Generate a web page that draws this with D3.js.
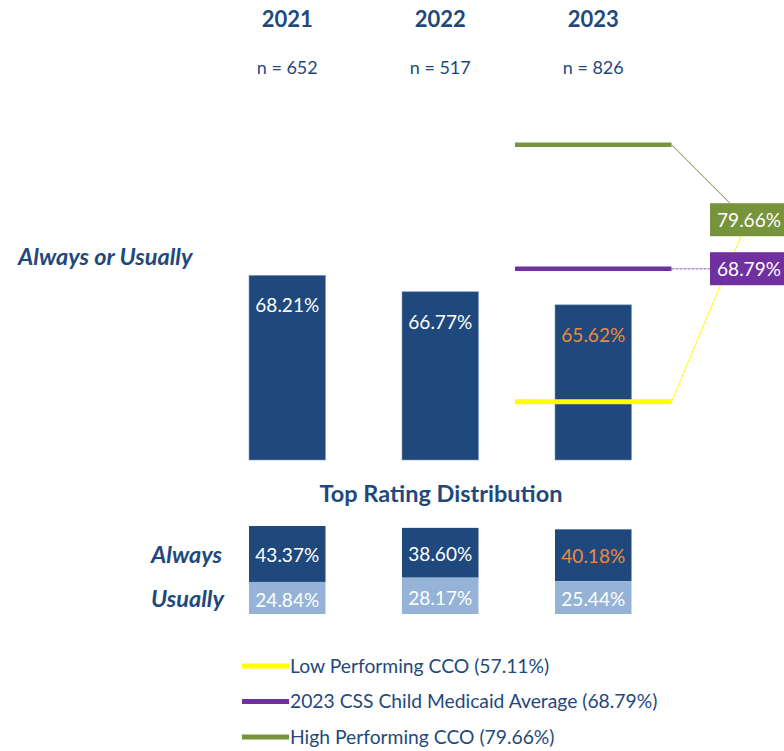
<!DOCTYPE html>
<html>
<head>
<meta charset="utf-8">
<script src="https://cdn.jsdelivr.net/npm/d3@7"></script>
<style>
  body { margin: 0; background: #fff; }
  text { font-family: Lato, "Noto Sans", sans-serif; }
</style>
</head>
<body>
<script>
const WIDTH = 784;
const HEIGHT = 751;

// Datos
const anios = ["2021", "2022", "2023"];
const muestras = [652, 517, 826];
const siempreOUsualmente = [68.21, 66.77, 65.62];
const siempre = [43.37, 38.60, 40.18];
const usualmente = [24.84, 28.17, 25.44];
const referenciaNombres = ["Low Performing CCO", "2023 CSS Child Medicaid Average", "High Performing CCO"];
const referenciaValores = [57.11, 68.79, 79.66];
const referenciaColores = ["#FFFF00", "#7030A0", "#77933C"];

const AZUL = "#1F497D";
const AZUL_CLARO = "#95B3D7";
const NARANJA = "#EE8A3E";

const svg = d3
  .select("body")
  .append("svg")
  .attr("width", WIDTH)
  .attr("height", HEIGHT);

const x = d3.scaleBand().domain(anios).range([172.5, 708]).paddingInner(0.5).paddingOuter(0.5);
const y = d3.scaleLinear().domain([52, 80]).range([460, 141]);
const yDist = d3.scaleLinear().domain([0, 100]).range([614, 485]);
const bw = x.bandwidth();
const pctTxt = (v) => d3.format(".2f")(v) + "%";
// el ultimo anio va en naranja
const colorTexto = (i) => (i === anios.length - 1 ? NARANJA : "#fff");

// encabezados
svg.selectAll(".anio")
  .data(anios)
  .join("text")
  .attr("x", (d) => x(d) + bw / 2)
  .attr("y", 27)
  .attr("text-anchor", "middle")
  .attr("font-size", 22)
  .attr("font-weight", "bold")
  .attr("fill", AZUL)
  .text((d) => d);

svg.selectAll(".n")
  .data(muestras)
  .join("text")
  .attr("x", (d, i) => x(anios[i]) + bw / 2)
  .attr("y", 74)
  .attr("text-anchor", "middle")
  .attr("font-size", 18)
  .attr("fill", AZUL)
  .text((d) => "n = " + d);

svg.append("text")
  .attr("x", 18)
  .attr("y", 265)
  .attr("font-size", 23.5)
  .attr("font-weight", "bold")
  .attr("font-style", "italic")
  .attr("fill", AZUL)
  .text("Always or Usually");

// barras principales
svg.selectAll(".barra")
  .data(siempreOUsualmente)
  .join("rect")
  .attr("x", (d, i) => x(anios[i]))
  .attr("y", (d) => y(d))
  .attr("width", bw)
  .attr("height", (d) => y(52) - y(d))
  .attr("fill", AZUL)
  .attr("stroke", "#7f9cc0")
  .attr("stroke-width", 0.6);

svg.selectAll(".valor")
  .data(siempreOUsualmente)
  .join("text")
  .attr("x", (d, i) => x(anios[i]) + bw / 2)
  .attr("y", (d) => y(d) + 32)
  .attr("text-anchor", "middle")
  .attr("dominant-baseline", "middle")
  .attr("font-size", 19)
  .attr("fill", (d, i) => colorTexto(i))
  .text(pctTxt);

// lineas de referencia sobre 2023
const x0 = x("2023") - 40;
const x1 = x("2023") + bw + 40;
const etiquetaX = 710;
const etiquetaY = [null, y(68.79), y(68.79) - 49];

// conectores
svg.append("line")
  .attr("x1", x1).attr("y1", y(referenciaValores[2]))
  .attr("x2", 730).attr("y2", etiquetaY[2] - 16.5)
  .attr("stroke", referenciaColores[2]).attr("stroke-width", 1);
svg.append("line")
  .attr("x1", x1).attr("y1", y(referenciaValores[0]))
  .attr("x2", 741).attr("y2", etiquetaY[2] + 16.5)
  .attr("stroke", referenciaColores[0]).attr("stroke-width", 1);
svg.append("line")
  .attr("x1", x1).attr("y1", y(referenciaValores[1]))
  .attr("x2", etiquetaX).attr("y2", etiquetaY[1])
  .attr("stroke", "#b48fd2").attr("stroke-width", 1.5)
  .attr("stroke-dasharray", "3,1");

svg.selectAll(".ref")
  .data(referenciaValores)
  .join("line")
  .attr("x1", x0)
  .attr("x2", x1)
  .attr("y1", (d) => y(d))
  .attr("y2", (d) => y(d))
  .attr("stroke", (d, i) => referenciaColores[i])
  .attr("stroke-width", (d, i) => (i === 0 ? 5 : 4.5));

// etiquetas de caja (alto y promedio)
[1, 2].forEach((i) => {
  svg.append("rect")
    .attr("x", etiquetaX)
    .attr("y", etiquetaY[i] - 16.5)
    .attr("width", 78)
    .attr("height", 33)
    .attr("fill", referenciaColores[i]);
  svg.append("text")
    .attr("x", etiquetaX + 39)
    .attr("y", etiquetaY[i] + 2)
    .attr("text-anchor", "middle")
    .attr("dominant-baseline", "middle")
    .attr("font-size", 19)
    .attr("fill", "#fff")
    .text(pctTxt(referenciaValores[i]));
});

// distribucion
svg.append("text")
  .attr("x", 441)
  .attr("y", 502)
  .attr("text-anchor", "middle")
  .attr("font-size", 23.5)
  .attr("font-weight", "bold")
  .attr("fill", AZUL)
  .text("Top Rating Distribution");

const pila = anios.map((a, i) => ({ anio: a, i: i, siempre: siempre[i], usualmente: usualmente[i] }));

svg.selectAll(".siempre")
  .data(pila)
  .join("rect")
  .attr("x", (d) => x(d.anio))
  .attr("y", (d) => yDist(d.siempre + d.usualmente))
  .attr("width", bw)
  .attr("height", (d) => yDist(d.usualmente) - yDist(d.siempre + d.usualmente))
  .attr("fill", AZUL);

svg.selectAll(".usual")
  .data(pila)
  .join("rect")
  .attr("x", (d) => x(d.anio))
  .attr("y", (d) => yDist(d.usualmente))
  .attr("width", bw)
  .attr("height", (d) => yDist(0) - yDist(d.usualmente))
  .attr("fill", AZUL_CLARO);

svg.selectAll(".tSiempre")
  .data(pila)
  .join("text")
  .attr("x", (d) => x(d.anio) + bw / 2)
  .attr("y", (d) => (yDist(d.siempre + d.usualmente) + yDist(d.usualmente)) / 2 + 3)
  .attr("text-anchor", "middle")
  .attr("dominant-baseline", "middle")
  .attr("font-size", 19)
  .attr("fill", (d) => colorTexto(d.i))
  .text((d) => pctTxt(d.siempre));

svg.selectAll(".tUsual")
  .data(pila)
  .join("text")
  .attr("x", (d) => x(d.anio) + bw / 2)
  .attr("y", (d) => (yDist(d.usualmente) + yDist(0)) / 2 + 4)
  .attr("text-anchor", "middle")
  .attr("dominant-baseline", "middle")
  .attr("font-size", 19)
  .attr("fill", "#fff")
  .text((d) => pctTxt(d.usualmente));

svg.selectAll(".fila")
  .data([["Always", 563], ["Usually", 607]])
  .join("text")
  .attr("x", 151)
  .attr("y", (d) => d[1])
  .attr("font-size", 23.5)
  .attr("font-weight", "bold")
  .attr("font-style", "italic")
  .attr("fill", AZUL)
  .text((d) => d[0]);

// leyenda
const leyenda = svg.append("g").attr("transform", "translate(242, 666)");
referenciaNombres.forEach((nombre, i) => {
  const yy = i * 35.5;
  leyenda.append("line")
    .attr("x1", 0).attr("x2", 47)
    .attr("y1", yy).attr("y2", yy)
    .attr("stroke", referenciaColores[i])
    .attr("stroke-width", 5);
  leyenda.append("text")
    .attr("x", 48)
    .attr("y", yy + 2)
    .attr("dominant-baseline", "middle")
    .attr("font-size", 19.3)
    .attr("fill", AZUL)
    .text(nombre + " (" + pctTxt(referenciaValores[i]) + ")");
});
</script>
</body>
</html>
